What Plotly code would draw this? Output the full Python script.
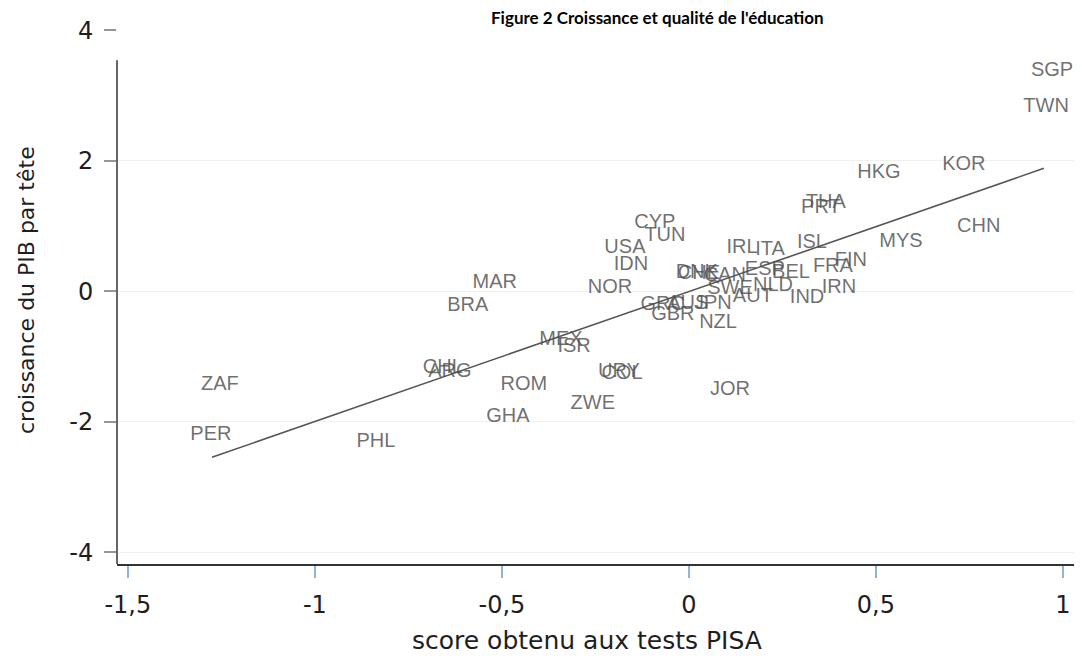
import plotly.graph_objects as go

# ---- data ----
countries = ["SGP", "TWN", "KOR", "HKG", "CHN", "MYS", "THA", "PRT", "ISL", "FIN",
             "FRA", "IRN", "IND", "ITA", "IRL", "ESP", "BEL", "NLD", "CYP", "TUN",
             "USA", "IDN", "NOR", "DNK", "CHE", "CAN", "SWE", "AUT", "GRC", "AUS",
             "JPN", "GBR", "NZL", "MAR", "BRA", "MEX", "ISR", "CHL", "ARG", "URY",
             "COL", "ROM", "ZWE", "GHA", "JOR", "ZAF", "PER", "PHL"]
pisa_score = [0.971, 0.955, 0.735, 0.508, 0.775, 0.567, 0.366, 0.353, 0.329, 0.433,
              0.385, 0.401, 0.316, 0.217, 0.142, 0.203, 0.273, 0.225, -0.091, -0.064,
              -0.171, -0.155, -0.211, 0.021, 0.027, 0.096, 0.110, 0.171, -0.070, -0.003,
              0.064, -0.043, 0.078, -0.519, -0.591, -0.342, -0.307, -0.658, -0.639, -0.187,
              -0.179, -0.441, -0.257, -0.484, 0.110, -1.254, -1.278, -0.837]
gdp_growth = [3.37, 2.82, 1.93, 1.81, 0.98, 0.75, 1.36, 1.27, 0.74, 0.47,
              0.37, 0.05, -0.11, 0.63, 0.66, 0.32, 0.28, 0.08, 1.04, 0.84,
              0.67, 0.40, 0.05, 0.28, 0.26, 0.23, 0.03, -0.08, -0.21, -0.20,
              -0.20, -0.37, -0.49, 0.12, -0.23, -0.75, -0.86, -1.18, -1.24, -1.24,
              -1.27, -1.44, -1.72, -1.93, -1.52, -1.44, -2.21, -2.31]

fit_x = [-1.275, 0.949]
fit_y = [-2.544, 1.885]

x_tickvals = [-1.5, -1, -0.5, 0, 0.5, 1]
x_ticktext = ["-1,5", "-1", "-0,5", "0", "0,5", "1"]
y_tickvals = [-4, -2, 0, 2, 4]
y_ticktext = ["-4", "-2", "0", "2", "4"]

title_text = "Figure 2 Croissance et qualité de l'éducation"
x_title = "score obtenu aux tests PISA"
y_title = "croissance du PIB par tête"

# ---- figure ----
fig = go.Figure()

fig.add_trace(go.Scatter(
    x=fit_x, y=fit_y, mode="lines",
    line=dict(color="#555555", width=1.6),
    hoverinfo="skip", showlegend=False,
))

fig.add_trace(go.Scatter(
    x=pisa_score, y=gdp_growth, mode="text", text=countries,
    textposition="middle center",
    textfont=dict(family="Liberation Sans, Arial, sans-serif", size=20,
                  color="rgba(80,80,80,0.82)"),
    showlegend=False,
))

tick_font = dict(family="DejaVu Sans, Verdana, sans-serif", size=24, color="#1e1e1e")

fig.update_xaxes(
    range=[-1.529, 1.051],
    tickvals=x_tickvals, ticktext=x_ticktext,
    ticks="outside", ticklen=12, tickwidth=1.5, tickcolor="rgb(140,180,220)",
    tickfont=tick_font, ticklabelstandoff=6,
    showline=True, linecolor="#333333", linewidth=1.5,
    showgrid=False, zeroline=False,
)
fig.update_yaxes(
    range=[-4.18, 4.005],
    tickvals=y_tickvals, ticktext=y_ticktext,
    ticks="outside", ticklen=12, tickwidth=1.5, tickcolor="rgb(150,150,150)",
    tickfont=tick_font, ticklabelstandoff=6,
    showline=False,
    showgrid=True, gridcolor="#f0f0f0", gridwidth=1,
    zeroline=False,
)

# visible y-axis line (the original shows it starting below the top tick)
fig.add_shape(type="line", xref="paper", yref="y", x0=0, x1=0, y0=-4.18, y1=3.54,
              line=dict(color="#333333", width=1.5), layer="above")

fig.add_annotation(text=title_text, xref="paper", yref="paper", x=0.5606, y=1.0235,
                   xanchor="center", yanchor="middle", showarrow=False,
                   font=dict(family="Lato, Liberation Sans, sans-serif", size=17,
                             color="#000000", weight="bold"))
fig.add_annotation(text=x_title, xref="paper", yref="paper", x=0.487, y=-0.144,
                   xanchor="center", yanchor="middle", showarrow=False,
                   font=dict(family="DejaVu Sans, Verdana, sans-serif", size=25,
                             color="#1e1e1e"))
fig.add_annotation(text=y_title, xref="paper", yref="paper", x=-0.0943, y=0.513,
                   xanchor="center", yanchor="middle", showarrow=False, textangle=-90,
                   font=dict(family="DejaVu Sans, Verdana, sans-serif", size=22,
                             color="#1e1e1e"))

# the page body adds an 8 px offset; compensate so the plot lands where the original is
fig.update_layout(
    width=1074, height=654,
    margin=dict(l=109, r=0, t=22, b=98),
    plot_bgcolor="white", paper_bgcolor="white",
    showlegend=False,
)

fig.write_html("out.html")
